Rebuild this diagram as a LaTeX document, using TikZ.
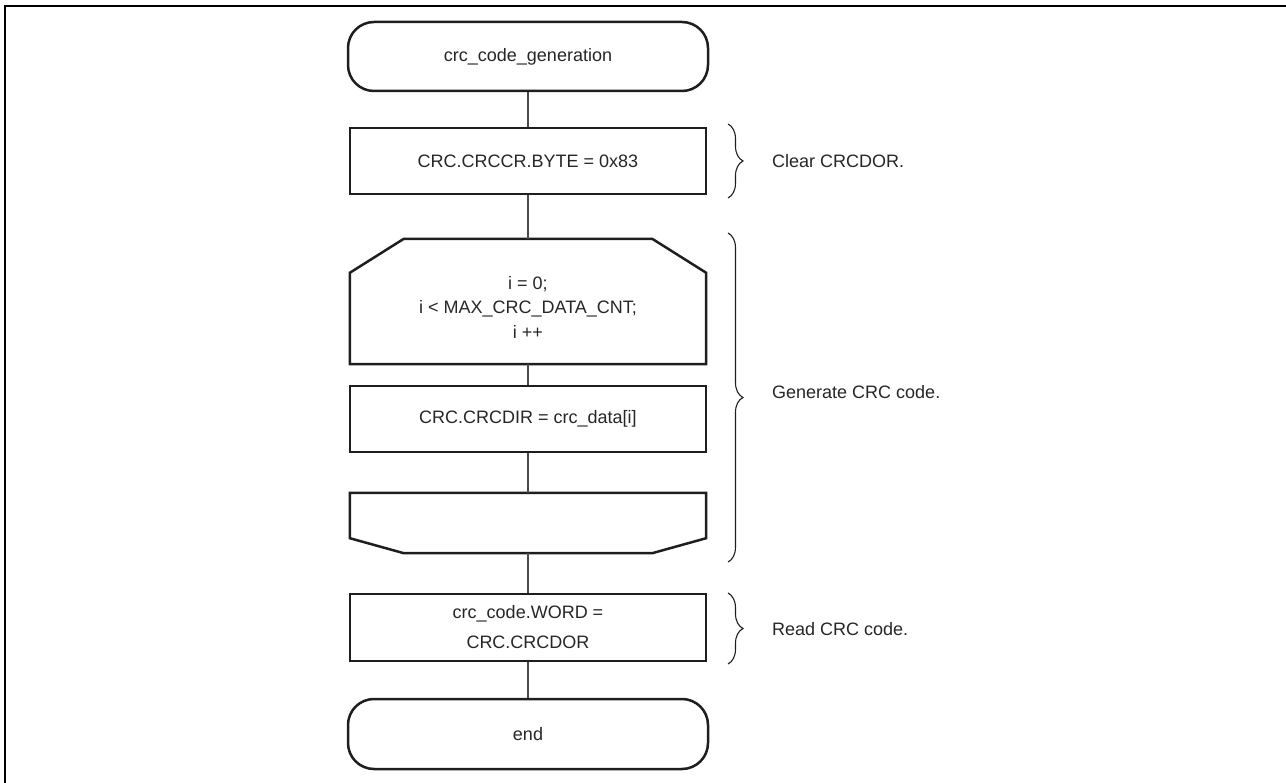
\documentclass[tikz,border=0pt]{standalone}
\usepackage{fontspec}
\setmainfont{Liberation Sans}
\usetikzlibrary{calc,decorations.pathreplacing}

\definecolor{ink}{HTML}{1E1E1E}
\definecolor{txt}{HTML}{262626}
\definecolor{linkgray}{HTML}{4A4A4A}

\begin{document}
\begin{tikzpicture}[x=1pt,y=-1pt,
  fctext/.style={text=txt, font=\fontsize{18}{27}\selectfont, align=center},
  fcbox/.style={fctext, draw=ink, line width=2.5pt, minimum width=356pt,
                minimum height=66pt, inner sep=0pt},
  terminal/.style={fcbox, rounded corners=26pt, minimum width=360pt},
  outline/.style={draw=ink, line width=2.5pt, line join=miter},
  link/.style={draw=linkgray, line width=1.25pt},
  bracestyle/.style={draw=ink, line width=1.1pt, decorate,
                     decoration={brace, amplitude=15pt}},
  note/.style={fctext, anchor=west, inner sep=0pt}]

  % page area and the open frame along the top and left
  \useasboundingbox (0,0) rectangle (1286,783);
  \draw[black, line width=2pt] (5,783) -- (5,6.5) -- (1286,6.5);

  % flowchart nodes
  \node[terminal, minimum height=69pt] (start) at (528,56.5) {crc\_code\_generation};
  \node[fcbox] (clr) at (528,161) {CRC.CRCCR.BYTE = 0x83};

  % loop limit (start): chamfered top corners
  \node[minimum width=356pt, minimum height=125pt, inner sep=0pt] (ls) at (528,301.5) {};
  \draw[outline] (ls.south west) -- ($(ls.north west)+(0,34)$) -- ($(ls.north west)+(54,0)$)
    -- ($(ls.north east)+(-54,0)$) -- ($(ls.north east)+(0,34)$) -- (ls.south east) -- cycle;
  \node[fctext, font=\fontsize{18}{24.5}\selectfont] (lstext) at (528,307)
    {i = 0;\\ i < MAX\_CRC\_DATA\_CNT;\\ i ++};

  \node[fcbox] (dir) at (528,419) {CRC.CRCDIR = crc\_data[i]};

  % loop limit (end): chamfered bottom corners
  \node[minimum width=356pt, minimum height=60pt, inner sep=0pt] (le) at (528,523) {};
  \draw[outline] (le.north west) -- (le.north east) -- ($(le.south east)+(0,-15)$)
    -- ($(le.south east)+(-54,0)$) -- ($(le.south west)+(54,0)$)
    -- ($(le.south west)+(0,-15)$) -- cycle;

  \node[fcbox, minimum height=67pt, font=\fontsize{18}{30}\selectfont] (rd) at (528,627.5)
    {crc\_code.WORD =\\ CRC.CRCDOR};
  \node[terminal, minimum height=70pt] (stop) at (528,734) {end};

  % connectors
  \draw[link] (start.south) -- (clr.north);
  \draw[link] (clr.south) -- (ls.north);
  \draw[link] (ls.south) -- (dir.north);
  \draw[link] (dir.south) -- (le.north);
  \draw[link] (le.south) -- (rd.north);
  \draw[link] (rd.south) -- (stop.north);

  % braces and remarks
  \coordinate (b1t) at (728,124);  \coordinate (b1b) at (728,198);
  \coordinate (b2t) at (728,233);  \coordinate (b2b) at (728,562);
  \coordinate (b3t) at (728,593);  \coordinate (b3b) at (728,664);
  \draw[bracestyle] (b1t) -- (b1b);
  \draw[bracestyle] (b2t) -- (b2b);
  \draw[bracestyle] (b3t) -- (b3b);

  \node[note] (n1) at (772,161) {Clear CRCDOR.};
  \node[note] (n2) at (772,392) {Generate CRC code.};
  \node[note] (n3) at (772,629) {Read CRC code.};
\end{tikzpicture}
\end{document}
